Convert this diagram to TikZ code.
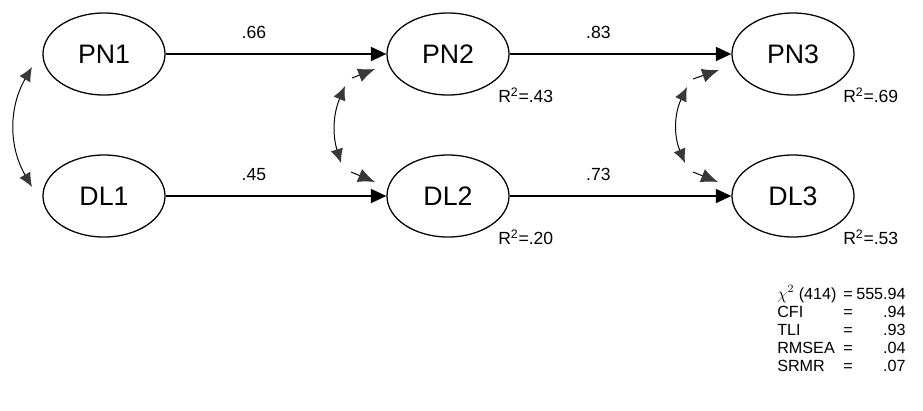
\documentclass[tikz,border=0pt]{standalone}
\usepackage{fontspec}
\setmainfont{Liberation Sans}
\usetikzlibrary{arrows.meta,calc,positioning,shapes.geometric}

\tikzset{
    latent/.style={ellipse, draw, line width=0.9pt, minimum width=3.05cm,
        minimum height=2.05cm, inner sep=0pt, font=\fontsize{19}{22}\selectfont},
    regpath/.style={line width=1.1pt, -{Triangle[length=11pt,width=10pt]}},
    corr/.style={line width=0.7pt, {Latex[length=10pt,width=9pt,color=black!78]}-{Latex[length=10pt,width=9pt,color=black!78]}},
    corrend/.style={line width=0.7pt, -{Latex[length=12pt,width=10pt,color=black!78]}},
    wt/.style={font=\fontsize{12.5}{14}\selectfont, inner sep=0pt, above=10pt},
    rsq/.style={font=\fontsize{12.5}{14}\selectfont, inner sep=0pt, anchor=west},
    stat/.style={font=\fontsize{11.5}{14}\selectfont, inner sep=0pt}
}

\begin{document}
\begin{tikzpicture}[x=0.025cm, y=-0.025cm]
    \useasboundingbox (0,0) rectangle (923,410);

    % Latent variables
    \node[latent] (PN1) at (104,54) {PN1};
    \node[latent] (DL1) at (104,196) {DL1};
    \node[latent] (PN2) at (448,54) {PN2};
    \node[latent] (DL2) at (448,196) {DL2};
    \node[latent] (PN3) at (793,54) {PN3};
    \node[latent] (DL3) at (793,196) {DL3};

    % Paths
    \draw[regpath] (PN1) -- node[wt, pos=.4] {.66} (PN2);
    \draw[regpath] (DL1) -- node[wt, pos=.4] {.45} (DL2);
    \draw[regpath] (PN2) -- node[wt, pos=.4] {.83} (PN3);
    \draw[regpath] (DL2) -- node[wt, pos=.4] {.73} (DL3);

    % Explained variance
    \node[rsq] (r2pn2) at ($(PN2.south)+(50,0)$) {R\textsuperscript{2}=.43};
    \node[rsq] (r2dl2) at ($(DL2.south)+(50,0)$) {R\textsuperscript{2}=.20};
    \node[rsq] (r2pn3) at ($(PN3.south)+(50,0)$) {R\textsuperscript{2}=.69};
    \node[rsq] (r2dl3) at ($(DL3.south)+(50,0)$) {R\textsuperscript{2}=.53};

    % Correlations
    \coordinate (c1a) at (32,67);
    \coordinate (c1b) at (32,187);
    \draw[corr] (c1a) to[bend right=30] (c1b);

    \coordinate (c2a) at (345,86);
    \coordinate (c2b) at (341,163);
    \coordinate (c2c) at (352,78);
    \coordinate (c2d) at (375,69);
    \coordinate (c2e) at (351,172);
    \coordinate (c2f) at (375,182);
    \draw[corr] (c2a) to[bend right=20] (c2b);
    \draw[corrend] (c2c) -- (c2d);
    \draw[corrend] (c2e) -- (c2f);

    \coordinate (c3a) at (687,87);
    \coordinate (c3b) at (685,163);
    \coordinate (c3c) at (693,79);
    \coordinate (c3d) at (719,70);
    \coordinate (c3e) at (693,172);
    \coordinate (c3f) at (718,182);
    \draw[corr] (c3a) to[bend right=24] (c3b);
    \draw[corrend] (c3c) -- (c3d);
    \draw[corrend] (c3e) -- (c3f);

    % Fit indices
    \foreach \lab/\val [count=\i] in {{$\chi^2$ (414)}/555.94, CFI/.94, TLI/.93, RMSEA/.04, SRMR/.07} {
        \node[stat, anchor=base west] (lab\i) at (777, 281+18*\i) {\lab};
        \node[stat, anchor=base] (eq\i) at (848, 281+18*\i) {=};
        \node[stat, anchor=base east] (val\i) at (906, 281+18*\i) {\val};
    }
\end{tikzpicture}
\end{document}
